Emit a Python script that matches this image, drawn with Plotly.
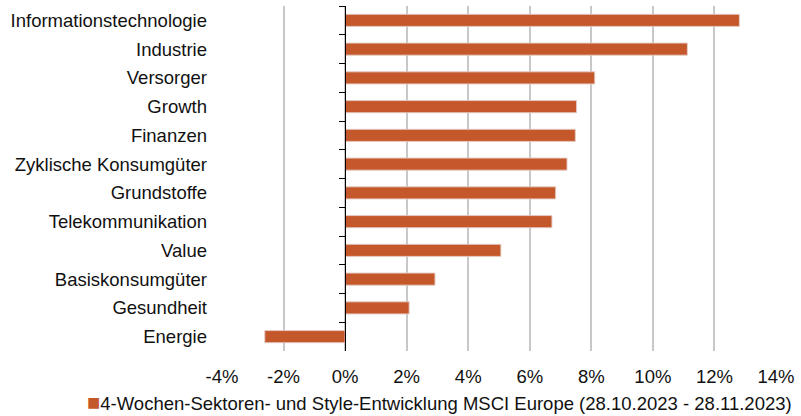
import plotly.graph_objects as go

categories = ["Informationstechnologie", "Industrie", "Versorger", "Growth", "Finanzen",
              "Zyklische Konsumgüter", "Grundstoffe", "Telekommunikation", "Value",
              "Basiskonsumgüter", "Gesundheit", "Energie"]
values = [12.81, 11.12, 8.11, 7.52, 7.48, 7.21, 6.84, 6.72, 5.06, 2.92, 2.08, -2.61]
x_tickvals = [-4, -2, 0, 2, 4, 6, 8, 10, 12, 14]
x_ticktext = ["-4%", "-2%", "0%", "2%", "4%", "6%", "8%", "10%", "12%", "14%"]
series_name = "4-Wochen-Sektoren- und Style-Entwicklung MSCI Europe (28.10.2023 - 28.11.2023)"

BAR = "#C5582B"
FONT = dict(family="Liberation Sans, Arial, sans-serif", size=18.5, color="#111111")
xmin, xmax = -4, 14

fig = go.Figure()
fig.add_trace(go.Bar(
    x=values, y=categories, orientation="h", name=series_name,
    marker=dict(color=BAR, line=dict(color="#E6A58A", width=0.6)),
    width=0.42, showlegend=False,
))
fig.add_trace(go.Bar(
    x=values, y=categories, orientation="h", yaxis="y2",
    marker=dict(color="rgba(0,0,0,0)"), width=0.42, showlegend=False, hoverinfo="skip",
))

fig.update_layout(
    width=801, height=416,
    margin=dict(l=222, r=24.5, t=5.6, b=64.6),
    paper_bgcolor="white", plot_bgcolor="white",
    font=FONT,
    showlegend=False,
    xaxis=dict(range=[xmin, xmax], tickvals=x_tickvals, ticktext=x_ticktext,
               showgrid=True, gridcolor="#c8c8c8", gridwidth=1.5,
               zeroline=False, showline=False, ticks="", ticklabelstandoff=12,
               fixedrange=True, automargin=False),
    yaxis=dict(categoryorder="array", categoryarray=categories, autorange="reversed",
               showline=False, ticks="", ticklabelstandoff=14, showgrid=False,
               automargin=False),
    yaxis2=dict(overlaying="y", matches="y", anchor="free",
                position=(0 - xmin) / (xmax - xmin),
                showline=True, linecolor="#000000", linewidth=1.3,
                ticks="outside", tickson="boundaries", ticklen=6, tickcolor="#000000",
                tickwidth=1.3, showticklabels=False, showgrid=False,
                categoryorder="array", categoryarray=categories, automargin=False),
    annotations=[dict(
        text=f"<span style='color:{BAR};font-size:22px'>■</span>{series_name}",
        xref="paper", yref="paper", x=-0.248, xanchor="left",
        y=-0.148, yanchor="middle", showarrow=False, font=FONT,
    )],
)

fig.write_html("out.html")
